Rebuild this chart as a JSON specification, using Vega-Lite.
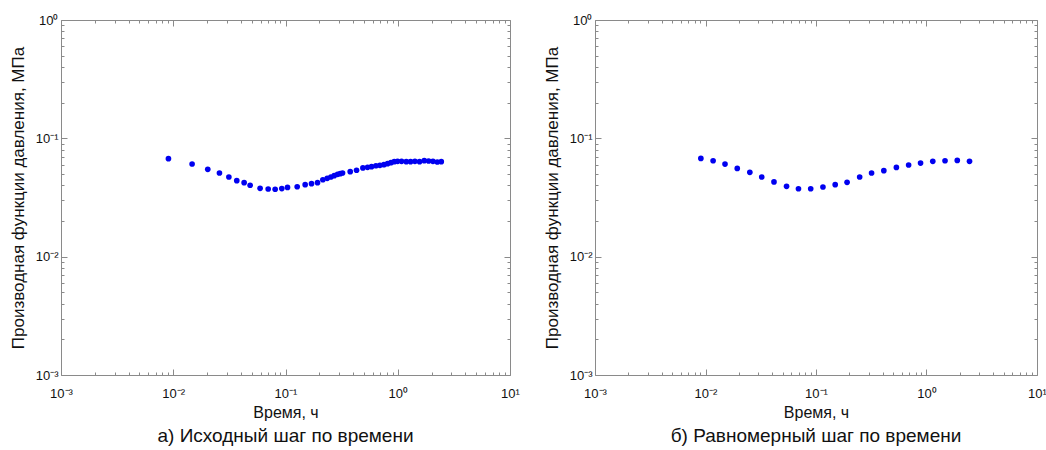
{
  "$schema": "https://vega.github.io/schema/vega-lite/v6.json",
  "background": "white",
  "padding": {"left": 9, "top": 14, "right": 5, "bottom": 5},
  "spacing": 23,
  "config": {
    "view": {"stroke": null},
    "font": "Liberation Sans",
    "axis": {
      "grid": false,
      "domainColor": "#8a8a8a",
      "tickColor": "#8a8a8a",
      "labelColor": "#111111",
      "titleColor": "#111111",
      "labelFont": "Liberation Sans",
      "titleFont": "Liberation Sans",
      "labelFontSize": 13,
      "titleFontSize": 16,
      "titleFontWeight": "normal",
      "labelFlush": false,
      "labelOverlap": false
    },
    "title": {"font": "Liberation Sans", "fontSize": 19, "fontWeight": "normal", "color": "#111111"}
  },
  "datasets": {
    "a": [
      {"t": 0.00906, "d": 0.0673}, {"t": 0.01472, "d": 0.0607}, {"t": 0.0203, "d": 0.0547},
      {"t": 0.0258, "d": 0.0509}, {"t": 0.0313, "d": 0.0471}, {"t": 0.0368, "d": 0.0439},
      {"t": 0.0428, "d": 0.0422}, {"t": 0.0484, "d": 0.0401}, {"t": 0.0594, "d": 0.0378},
      {"t": 0.0701, "d": 0.0373}, {"t": 0.0809, "d": 0.0371}, {"t": 0.0927, "d": 0.0376},
      {"t": 0.1042, "d": 0.0385}, {"t": 0.1271, "d": 0.039}, {"t": 0.1497, "d": 0.0406},
      {"t": 0.1705, "d": 0.0414}, {"t": 0.1929, "d": 0.0422}, {"t": 0.2152, "d": 0.0447},
      {"t": 0.2352, "d": 0.0459}, {"t": 0.2537, "d": 0.0471}, {"t": 0.2716, "d": 0.0484},
      {"t": 0.2908, "d": 0.0496}, {"t": 0.3073, "d": 0.0503}, {"t": 0.3222, "d": 0.0509},
      {"t": 0.3771, "d": 0.0523}, {"t": 0.4295, "d": 0.0537}, {"t": 0.4893, "d": 0.0562},
      {"t": 0.5384, "d": 0.0569}, {"t": 0.5844, "d": 0.0576}, {"t": 0.6389, "d": 0.0587},
      {"t": 0.6934, "d": 0.0591}, {"t": 0.7527, "d": 0.0599}, {"t": 0.8117, "d": 0.0611},
      {"t": 0.8694, "d": 0.0623}, {"t": 0.9307, "d": 0.0635}, {"t": 0.9965, "d": 0.0639},
      {"t": 1.082, "d": 0.0639}, {"t": 1.191, "d": 0.0635}, {"t": 1.301, "d": 0.0635},
      {"t": 1.422, "d": 0.0639}, {"t": 1.565, "d": 0.0635}, {"t": 1.723, "d": 0.0648},
      {"t": 1.884, "d": 0.0643}, {"t": 2.058, "d": 0.0639}, {"t": 2.25, "d": 0.0631},
      {"t": 2.443, "d": 0.0635}
    ],
    "b": [
      {"t": 0.00908, "d": 0.0677}, {"t": 0.01172, "d": 0.0647}, {"t": 0.01502, "d": 0.0606},
      {"t": 0.01938, "d": 0.0557}, {"t": 0.02519, "d": 0.0516}, {"t": 0.03228, "d": 0.0471},
      {"t": 0.04167, "d": 0.0428}, {"t": 0.05414, "d": 0.0393}, {"t": 0.06939, "d": 0.0375},
      {"t": 0.08955, "d": 0.0375}, {"t": 0.1156, "d": 0.0388}, {"t": 0.1492, "d": 0.0406},
      {"t": 0.1911, "d": 0.0425}, {"t": 0.2484, "d": 0.0471}, {"t": 0.3184, "d": 0.0509},
      {"t": 0.411, "d": 0.0533}, {"t": 0.5339, "d": 0.0568}, {"t": 0.6891, "d": 0.0595},
      {"t": 0.8834, "d": 0.0618}, {"t": 1.14, "d": 0.0639}, {"t": 1.471, "d": 0.0647},
      {"t": 1.899, "d": 0.0651}, {"t": 2.451, "d": 0.0639}
    ]
  },
  "hconcat": [
    {
      "width": 449,
      "height": 355,
      "data": {"name": "a"},
      "title": {"text": "а) Исходный шаг по времени", "orient": "bottom", "offset": 7},
      "layer": [
        {
          "mark": {"type": "point", "filled": true, "size": 32, "color": "#0000f0", "opacity": 1},
          "encoding": {
            "x": {"field": "t", "type": "quantitative",
              "scale": {"type": "log", "domain": [0.001, 10], "nice": false},
              "axis": {"orient": "bottom", "title": "Время, ч", "titlePadding": 1, "labelPadding": 18,
                "values": [0.001,0.002,0.003,0.004,0.005,0.006,0.007,0.008,0.009,0.01,0.02,0.03,0.04,0.05,0.06,0.07,0.08,0.09,0.1,0.2,0.3,0.4,0.5,0.6,0.7,0.8,0.9,1,2,3,4,5,6,7,8,9,10],
                "tickSize": {"condition": {"test": "indexof([0.001,0.01,0.1,1,10], datum.value) >= 0", "value": -6}, "value": -3},
                "labelExpr": "datum.value==0.001?'10⁻³':datum.value==0.01?'10⁻²':datum.value==0.1?'10⁻¹':datum.value==1?'10⁰':datum.value==10?'10¹':''"}},
            "y": {"field": "d", "type": "quantitative",
              "scale": {"type": "log", "domain": [0.001, 1], "nice": false},
              "axis": {"orient": "left", "title": "Производная функции давления, МПа", "titleFontSize": 17, "titlePadding": 8, "labelPadding": 9,
                "values": [0.001,0.002,0.003,0.004,0.005,0.006,0.007,0.008,0.009,0.01,0.02,0.03,0.04,0.05,0.06,0.07,0.08,0.09,0.1,0.2,0.3,0.4,0.5,0.6,0.7,0.8,0.9,1],
                "tickSize": {"condition": {"test": "indexof([0.001,0.01,0.1,1], datum.value) >= 0", "value": -6}, "value": -3},
                "labelExpr": "datum.value==0.001?'10⁻³':datum.value==0.01?'10⁻²':datum.value==0.1?'10⁻¹':datum.value==1?'10⁰':''"}}
          }
        },
        {
          "mark": {"type": "point", "opacity": 0},
          "encoding": {
            "x": {"field": "t", "type": "quantitative",
              "scale": {"type": "log", "domain": [0.001, 10], "nice": false},
              "axis": {"orient": "top", "title": null, "labels": false,
                "values": [0.001,0.002,0.003,0.004,0.005,0.006,0.007,0.008,0.009,0.01,0.02,0.03,0.04,0.05,0.06,0.07,0.08,0.09,0.1,0.2,0.3,0.4,0.5,0.6,0.7,0.8,0.9,1,2,3,4,5,6,7,8,9,10],
                "tickSize": {"condition": {"test": "indexof([0.001,0.01,0.1,1,10], datum.value) >= 0", "value": -6}, "value": -3}}},
            "y": {"field": "d", "type": "quantitative",
              "scale": {"type": "log", "domain": [0.001, 1], "nice": false},
              "axis": {"orient": "right", "title": null, "labels": false,
                "values": [0.001,0.002,0.003,0.004,0.005,0.006,0.007,0.008,0.009,0.01,0.02,0.03,0.04,0.05,0.06,0.07,0.08,0.09,0.1,0.2,0.3,0.4,0.5,0.6,0.7,0.8,0.9,1],
                "tickSize": {"condition": {"test": "indexof([0.001,0.01,0.1,1], datum.value) >= 0", "value": -6}, "value": -3}}}
          }
        }
      ],
      "resolve": {"axis": {"x": "independent", "y": "independent"}}
    },
    {
      "width": 442,
      "height": 355,
      "data": {"name": "b"},
      "title": {"text": "б) Равномерный шаг по времени", "orient": "bottom", "offset": 7},
      "layer": [
        {
          "mark": {"type": "point", "filled": true, "size": 32, "color": "#0000f0", "opacity": 1},
          "encoding": {
            "x": {"field": "t", "type": "quantitative",
              "scale": {"type": "log", "domain": [0.001, 10], "nice": false},
              "axis": {"orient": "bottom", "title": "Время, ч", "titlePadding": 1, "labelPadding": 18,
                "values": [0.001,0.002,0.003,0.004,0.005,0.006,0.007,0.008,0.009,0.01,0.02,0.03,0.04,0.05,0.06,0.07,0.08,0.09,0.1,0.2,0.3,0.4,0.5,0.6,0.7,0.8,0.9,1,2,3,4,5,6,7,8,9,10],
                "tickSize": {"condition": {"test": "indexof([0.001,0.01,0.1,1,10], datum.value) >= 0", "value": -6}, "value": -3},
                "labelExpr": "datum.value==0.001?'10⁻³':datum.value==0.01?'10⁻²':datum.value==0.1?'10⁻¹':datum.value==1?'10⁰':datum.value==10?'10¹':''"}},
            "y": {"field": "d", "type": "quantitative",
              "scale": {"type": "log", "domain": [0.001, 1], "nice": false},
              "axis": {"orient": "left", "title": "Производная функции давления, МПа", "titleFontSize": 17, "titlePadding": 8, "labelPadding": 9,
                "values": [0.001,0.002,0.003,0.004,0.005,0.006,0.007,0.008,0.009,0.01,0.02,0.03,0.04,0.05,0.06,0.07,0.08,0.09,0.1,0.2,0.3,0.4,0.5,0.6,0.7,0.8,0.9,1],
                "tickSize": {"condition": {"test": "indexof([0.001,0.01,0.1,1], datum.value) >= 0", "value": -6}, "value": -3},
                "labelExpr": "datum.value==0.001?'10⁻³':datum.value==0.01?'10⁻²':datum.value==0.1?'10⁻¹':datum.value==1?'10⁰':''"}}
          }
        },
        {
          "mark": {"type": "point", "opacity": 0},
          "encoding": {
            "x": {"field": "t", "type": "quantitative",
              "scale": {"type": "log", "domain": [0.001, 10], "nice": false},
              "axis": {"orient": "top", "title": null, "labels": false,
                "values": [0.001,0.002,0.003,0.004,0.005,0.006,0.007,0.008,0.009,0.01,0.02,0.03,0.04,0.05,0.06,0.07,0.08,0.09,0.1,0.2,0.3,0.4,0.5,0.6,0.7,0.8,0.9,1,2,3,4,5,6,7,8,9,10],
                "tickSize": {"condition": {"test": "indexof([0.001,0.01,0.1,1,10], datum.value) >= 0", "value": -6}, "value": -3}}},
            "y": {"field": "d", "type": "quantitative",
              "scale": {"type": "log", "domain": [0.001, 1], "nice": false},
              "axis": {"orient": "right", "title": null, "labels": false,
                "values": [0.001,0.002,0.003,0.004,0.005,0.006,0.007,0.008,0.009,0.01,0.02,0.03,0.04,0.05,0.06,0.07,0.08,0.09,0.1,0.2,0.3,0.4,0.5,0.6,0.7,0.8,0.9,1],
                "tickSize": {"condition": {"test": "indexof([0.001,0.01,0.1,1], datum.value) >= 0", "value": -6}, "value": -3}}}
          }
        }
      ],
      "resolve": {"axis": {"x": "independent", "y": "independent"}}
    }
  ]
}
